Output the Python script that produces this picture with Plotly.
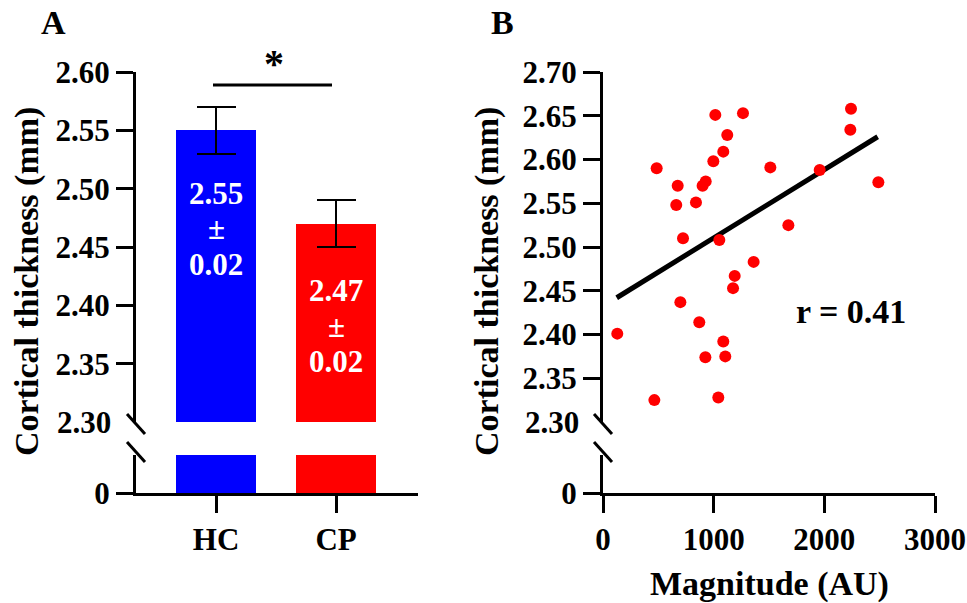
import plotly.graph_objects as go

# ---------------- data ----------------
categories = ["HC", "CP"]
group_means = [2.55, 2.47]
group_sem = [0.02, 0.02]
group_colors = ["#0000ff", "#ff0000"]
bar_labels_top = ["2.55", "2.47"]
bar_labels_pm = ["±", "±"]
bar_labels_bot = ["0.02", "0.02"]

magnitude = [485, 675, 662, 840, 900, 928, 997, 1015, 1087, 1123, 1265, 1512,
             723, 1051, 1675, 1361, 1190, 1175, 1958, 2241, 2235, 2488,
             699, 870, 129, 1087, 925, 1105, 464, 1042]
thickness = [2.590, 2.570, 2.548, 2.551, 2.570, 2.575, 2.598, 2.651, 2.609, 2.628, 2.653, 2.591,
             2.510, 2.508, 2.525, 2.483, 2.467, 2.453, 2.588, 2.658, 2.634, 2.574,
             2.437, 2.414, 2.401, 2.392, 2.374, 2.375, 2.325, 2.328]
fit_x = [124, 2482]
fit_y = [2.442, 2.626]

ytick_A = [2.35, 2.40, 2.45, 2.50, 2.55, 2.60]
ytick_B = [2.35, 2.40, 2.45, 2.50, 2.55, 2.60, 2.65, 2.70]
xtick_B = [0, 1000, 2000, 3000]

# ---------------- layout helpers ----------------
W, H = 967, 603
def PX(p): return p / W
def PY(p): return 1 - p / H

FONT = "Liberation Serif"
tickfont = dict(family=FONT, size=31, color="black", weight="bold")

fig = go.Figure()

fig.add_trace(go.Bar(x=categories, y=group_means, marker=dict(color=group_colors, line=dict(width=0)),
                     width=0.667, xaxis="x", yaxis="y",
                     error_y=dict(type="data", array=group_sem, color="black", thickness=2, width=19.5),
                     showlegend=False))
fig.add_trace(go.Bar(x=categories, y=group_means, marker=dict(color=group_colors, line=dict(width=0)),
                     width=0.667, xaxis="x", yaxis="y2", showlegend=False))

fig.add_trace(go.Scatter(x=fit_x, y=fit_y, mode="lines", line=dict(color="black", width=5),
                         xaxis="x2", yaxis="y3", showlegend=False))
fig.add_trace(go.Scatter(x=magnitude, y=thickness, mode="markers",
                         marker=dict(color="#ff0000", size=12, line=dict(width=0)),
                         xaxis="x2", yaxis="y3", showlegend=False))
fig.add_trace(go.Scatter(x=[None], y=[None], mode="markers", xaxis="x2", yaxis="y4",
                         showlegend=False, hoverinfo="skip"))

axis_common = dict(showline=True, linewidth=3, linecolor="black", ticks="outside", ticklen=17,
                   tickwidth=3, tickcolor="black", showgrid=False, zeroline=False, tickfont=tickfont,
                   automargin=False)

fig.update_layout(
    template="none",
    width=W, height=H, margin=dict(l=0, r=0, t=0, b=0, pad=0), autosize=False,
    paper_bgcolor="white", plot_bgcolor="rgba(0,0,0,0)",
    bargap=0, showlegend=False,
    xaxis=dict(domain=[PX(136), PX(418)], anchor="y2", type="category",
               categoryorder="array", categoryarray=categories,
               range=[-0.667, 1.683], ticklabelstandoff=0, **axis_common),
    yaxis=dict(domain=[PY(422), PY(72)], anchor="x", range=[2.30, 2.60],
               tickvals=ytick_A, tickformat=".2f", ticklabelstandoff=0, **axis_common),
    yaxis2=dict(domain=[PY(493), PY(455)], anchor="x", range=[0, 0.2],
                tickvals=[0], ticktext=["0"], ticklabelstandoff=0, **axis_common),
    xaxis2=dict(domain=[PX(603), PX(935)], anchor="y4", range=[0, 3000],
                tickvals=xtick_B, ticklabelstandoff=0, **axis_common),
    yaxis3=dict(domain=[PY(422), PY(72)], anchor="x2", range=[2.30, 2.70],
                tickvals=ytick_B, tickformat=".2f", ticklabelstandoff=0, **axis_common),
    yaxis4=dict(domain=[PY(493), PY(455)], anchor="x2", range=[0, 0.2],
                tickvals=[0], ticktext=["0"], ticklabelstandoff=0, **axis_common),
)

shapes = [dict(type="line", xref="paper", yref="paper", x0=PX(213), x1=PX(332), y0=PY(85), y1=PY(85),
               line=dict(color="black", width=3))]
for xc in (136, 603):
    for yc in (424, 452):
        shapes.append(dict(type="line", xref="paper", yref="paper",
                           x0=PX(xc - 9), x1=PX(xc + 9), y0=PY(yc - 10), y1=PY(yc + 10),
                           line=dict(color="black", width=3)))
fig.update_layout(shapes=shapes)

def ann(text, x, y, size=31, color="black", xanchor="center", yanchor="middle", angle=0):
    fig.add_annotation(text=text, x=PX(x), y=PY(y), xref="paper", yref="paper", showarrow=False,
                       xanchor=xanchor, yanchor=yanchor, textangle=angle,
                       font=dict(family=FONT, size=size, color=color, weight="bold"))

ann("A", 53, 22, size=34)
ann("B", 502, 22, size=34)
ann("*", 274, 64, size=40)
ann("2.30", 113, 422, xanchor="right")
ann("2.30", 581, 422, xanchor="right")

bar_centers = [216, 336]
top_y = [193, 290]
for i in range(2):
    ann(bar_labels_top[i], bar_centers[i], top_y[i], color="white")
    ann(bar_labels_pm[i], bar_centers[i], top_y[i] + 36, color="white")
    ann(bar_labels_bot[i], bar_centers[i], top_y[i] + 71, color="white")

ann("Cortical thickness (mm)", 27, 282, size=34, angle=-90)
ann("Cortical thickness (mm)", 487, 282, size=34, angle=-90)
ann("Magnitude (AU)", 769, 584, size=34)
ann("r = 0.41", 851, 311, size=34)

# remove the default 8px page margin so the 967x603 figure fills the window exactly
fig.write_html("out.html", config={"displayModeBar": False},
               post_script="document.body.style.margin='0';document.body.style.overflow='hidden';")
